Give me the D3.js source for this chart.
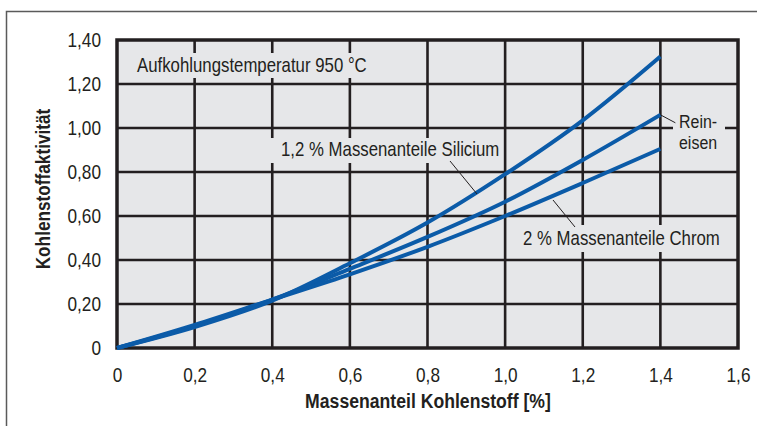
<!DOCTYPE html>
<html>
<head>
<meta charset="utf-8">
<script src="https://cdn.jsdelivr.net/npm/d3@7"></script>
<style>
  html, body { margin: 0; padding: 0; background: #ffffff; }
  svg { display: block; }
  text { font-family: "Liberation Sans Narrow", "Arial Narrow", "Liberation Sans", Arial, sans-serif; fill: #231f20; }
</style>
</head>
<body>
<svg id="chart" width="757" height="426"></svg>
<script>
// Kohlenstoffaktivität über dem Kohlenstoffgehalt bei 950 °C
const carbon = [0, 0.2, 0.4, 0.6, 0.8, 1.0, 1.2, 1.4];
const silicium = [0, 0.095, 0.215, 0.385, 0.57, 0.79, 1.035, 1.325];
const reineisen = [0, 0.10, 0.22, 0.36, 0.505, 0.665, 0.855, 1.06];
const chrom = [0, 0.105, 0.22, 0.335, 0.46, 0.60, 0.75, 0.905];

const xTicks = [0, 0.2, 0.4, 0.6, 0.8, 1.0, 1.2, 1.4, 1.6];
const xTickLabels = ["0", "0,2", "0,4", "0,6", "0,8", "1,0", "1,2", "1,4", "1,6"];
const yTicks = [0, 0.2, 0.4, 0.6, 0.8, 1.0, 1.2, 1.4];
const yTickLabels = ["0", "0,20", "0,40", "0,60", "0,80", "1,00", "1,20", "1,40"];

const xTitle = "Massenanteil Kohlenstoff [%]";
const yTitle = "Kohlenstoffaktivität";
const tempLabel = "Aufkohlungstemperatur 950 °C";
const siLabel = "1,2 % Massenanteile Silicium";
const crLabel = "2 % Massenanteile Chrom";
const feLabel = ["Rein-", "eisen"];

const ink = "#231f20";
const plotBg = "#e6e7e9";
const curveColor = "#0b5ba8";
const squeeze = 0.84; // horizontal compression giving a condensed type look

const svg = d3.select("#chart");
const pLeft = 117, pRight = 738, pTop = 40, pBottom = 348;

const x = d3.scaleLinear().domain([0, 1.6]).range([pLeft, pRight]);
const y = d3.scaleLinear().domain([0, 1.4]).range([pBottom, pTop]);

// condensed text placed at (tx, ty)
function label(tx, ty, str, opts = {}) {
  const t = svg.append("text")
    .attr("transform", `translate(${tx},${ty}) ${opts.rotate ? "rotate(-90) " : ""}scale(${squeeze},1)`)
    .attr("font-size", opts.size || 20)
    .attr("text-anchor", opts.anchor || "start")
    .text(str);
  if (opts.bold) t.attr("font-weight", "bold");
  return t;
}

// outer frame
svg.append("rect")
  .attr("x", 6.5).attr("y", 11.5).attr("width", 800).attr("height", 500)
  .attr("fill", "none").attr("stroke", "#5a5a5a").attr("stroke-width", 1.5);

// plot background
svg.append("rect")
  .attr("x", pLeft).attr("y", pTop).attr("width", pRight - pLeft).attr("height", pBottom - pTop)
  .attr("fill", plotBg);

// grid
const grid = svg.append("g");
grid.selectAll("line.v").data(xTicks.slice(1, -1)).join("line")
  .attr("x1", d => x(d)).attr("x2", d => x(d))
  .attr("y1", pTop).attr("y2", pBottom)
  .attr("stroke", ink).attr("stroke-width", 2.6);
grid.selectAll("line.h").data(yTicks.slice(1, -1)).join("line")
  .attr("x1", pLeft).attr("x2", pRight)
  .attr("y1", d => y(d)).attr("y2", d => y(d))
  .attr("stroke", ink).attr("stroke-width", 2.6);

// label backgrounds interrupting the grid
function knockout(bx, by, bw, bh) {
  svg.append("rect").attr("x", bx).attr("y", by).attr("width", bw).attr("height", bh).attr("fill", plotBg);
}
knockout(131, 53, 238, 25);
knockout(268, 138, 234, 25);
knockout(517, 225, 204, 27);
knockout(673, 112, 52, 40);

// frame of the plot area
svg.append("rect")
  .attr("x", pLeft).attr("y", pTop).attr("width", pRight - pLeft).attr("height", pBottom - pTop)
  .attr("fill", "none").attr("stroke", ink).attr("stroke-width", 3.5);

// axes labels
const xAxis = d3.axisBottom(x).tickValues(xTicks).tickSize(0).tickPadding(19)
  .tickFormat((d, i) => xTickLabels[i]);
const gx = svg.append("g").attr("transform", `translate(0,${pBottom})`).call(xAxis);
gx.select(".domain").remove();
gx.selectAll("text")
  .attr("font-size", 20.5).attr("fill", ink)
  .attr("transform", `scale(${squeeze},1)`);

const yPad = 16;
const yAxis = d3.axisLeft(y).tickValues(yTicks).tickSize(0).tickPadding(yPad)
  .tickFormat((d, i) => yTickLabels[i]);
const gy = svg.append("g").attr("transform", `translate(${pLeft},0)`).call(yAxis);
gy.select(".domain").remove();
gy.selectAll("text")
  .attr("font-size", 20.5).attr("fill", ink)
  .attr("x", -yPad / squeeze)
  .attr("transform", `scale(${squeeze},1)`);
gx.attr("font-family", null);
gy.attr("font-family", null);

// axis titles
label(428, 408, xTitle, { size: 21, bold: true, anchor: "middle" });
label(50, 189, yTitle, { size: 20.5, bold: true, anchor: "middle", rotate: true });

// curves
const line = d3.line()
  .x((d, i) => x(carbon[i]))
  .y(d => y(d))
  .curve(d3.curveMonotoneX);

[reineisen, chrom, silicium].forEach(series => {
  svg.append("path")
    .attr("d", line(series))
    .attr("fill", "none")
    .attr("stroke", curveColor)
    .attr("stroke-width", 4)
    .attr("stroke-linecap", "butt");
});

// annotations
label(137, 72, tempLabel);

label(281, 156, siLabel);
svg.append("line")
  .attr("x1", 450).attr("y1", 161).attr("x2", 477).attr("y2", 194)
  .attr("stroke", ink).attr("stroke-width", 1);

label(523, 245, crLabel);
svg.append("line")
  .attr("x1", 553).attr("y1", 200).attr("x2", 575).attr("y2", 227)
  .attr("stroke", ink).attr("stroke-width", 1);

const feEnd = reineisen[reineisen.length - 1];
svg.append("line")
  .attr("x1", x(1.4)).attr("y1", y(feEnd))
  .attr("x2", x(1.4) + 15).attr("y2", y(feEnd) + 8)
  .attr("stroke", ink).attr("stroke-width", 1);
label(679, 128, feLabel[0], { size: 19 });
label(679, 149, feLabel[1], { size: 19 });
</script>
</body>
</html>
